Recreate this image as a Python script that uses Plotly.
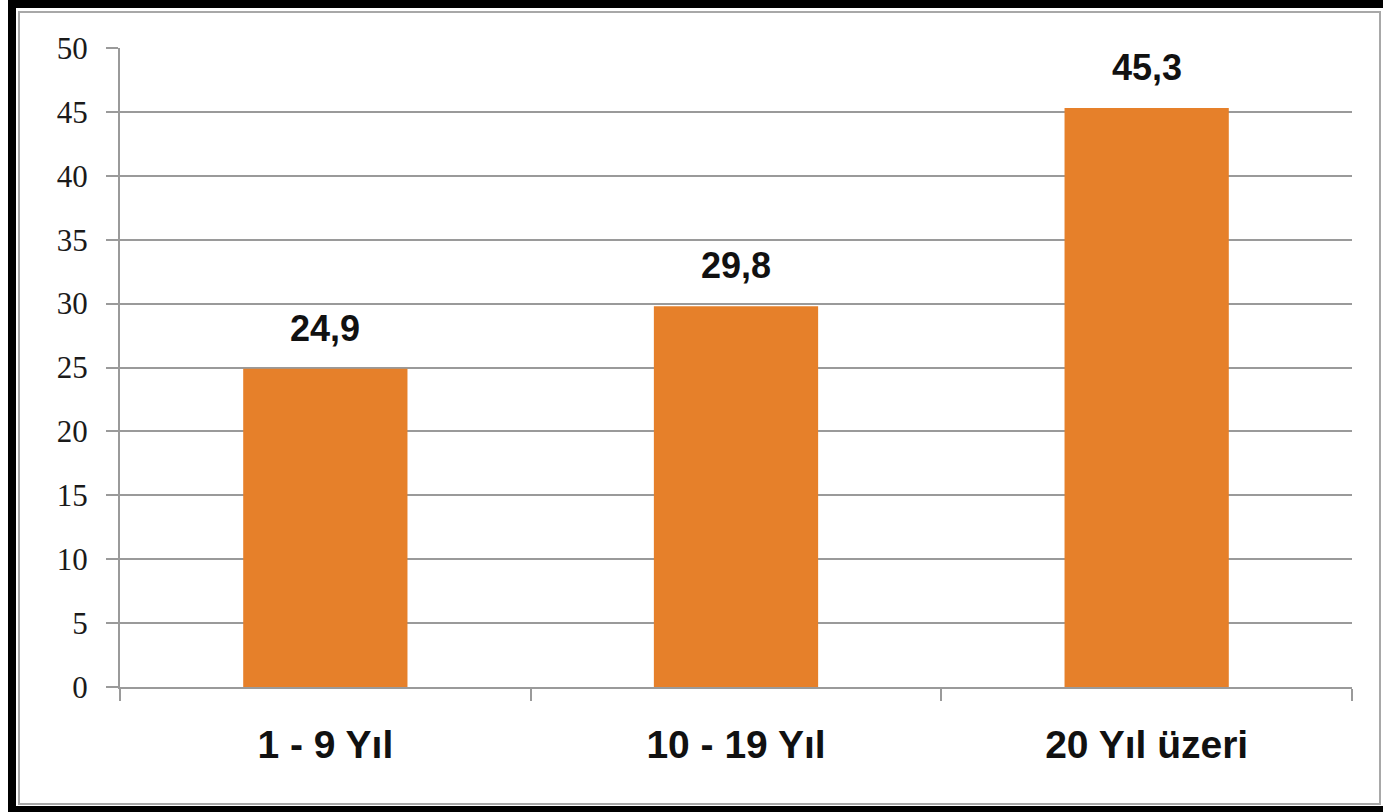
import plotly.graph_objects as go

categories = ["1 - 9 Yıl", "10 - 19 Yıl", "20 Yıl üzeri"]
values = [24.9, 29.8, 45.3]
y_ticks = [0, 5, 10, 15, 20, 25, 30, 35, 40, 45, 50]

W, H = 1383, 812
L, R, T, B = 120, 1352, 48, 687

def px(x):
    return (x - L) / (R - L)

def py(y):
    return (B - y) / (B - T)

fig = go.Figure()
fig.add_trace(go.Bar(
    x=categories, y=values,
    marker=dict(color="#E6802A", line=dict(width=0)),
    width=0.4,
    hoverinfo="skip",
))

for c, v in zip(categories, values):
    fig.add_annotation(
        x=c, y=v, text=f"{v:.1f}".replace(".", ","),
        showarrow=False, yanchor="bottom", yshift=18,
        font=dict(family="Liberation Sans, Arial", size=36, color="#111111", weight="bold"),
    )

shapes = [
    # black frame
    dict(type="rect", xref="paper", yref="paper", x0=px(8), x1=px(W + 5), y0=py(-5), y1=py(8),
         fillcolor="black", line=dict(width=0), layer="above"),
    dict(type="rect", xref="paper", yref="paper", x0=px(8), x1=px(16), y0=py(-5), y1=py(H + 5),
         fillcolor="black", line=dict(width=0), layer="above"),
    dict(type="rect", xref="paper", yref="paper", x0=px(8), x1=px(W + 5), y0=py(806), y1=py(H + 5),
         fillcolor="black", line=dict(width=0), layer="above"),
    # inner gray frame
    dict(type="rect", xref="paper", yref="paper", x0=px(19), x1=px(1380), y0=py(12), y1=py(804),
         fillcolor="rgba(0,0,0,0)", line=dict(color="#A8A8A8", width=2), layer="below"),
]

fig.update_layout(
    width=W, height=H,
    margin=dict(l=L, r=W - R, t=T, b=H - B, pad=0),
    paper_bgcolor="white", plot_bgcolor="white",
    showlegend=False,
    separators=",.",
    bargap=0.6,
    shapes=shapes,
    font=dict(family="Liberation Sans, Arial"),
)
fig.update_yaxes(
    range=[0, 50], tickvals=y_ticks,
    showgrid=True, gridcolor="#9A9A9A", gridwidth=2,
    showline=True, linecolor="#9A9A9A", linewidth=2,
    ticks="outside", ticklen=12, tickcolor="#9A9A9A", tickwidth=2,
    ticklabelstandoff=12,
    tickfont=dict(family="Liberation Serif, Times New Roman", size=31, color="#1A1A1A"),
    zeroline=False,
)
fig.update_xaxes(
    showline=True, linecolor="#9A9A9A", linewidth=2,
    ticks="outside", ticklen=12, tickcolor="#9A9A9A", tickwidth=2,
    tickson="boundaries",
    ticklabelstandoff=22,
    tickfont=dict(family="Liberation Sans, Arial", size=39, color="#111111", weight="bold"),
)

fig.write_html(
    "out.html",
    config={"displayModeBar": False},
    post_script="document.body.style.margin='0px';document.body.style.overflow='hidden';",
)
